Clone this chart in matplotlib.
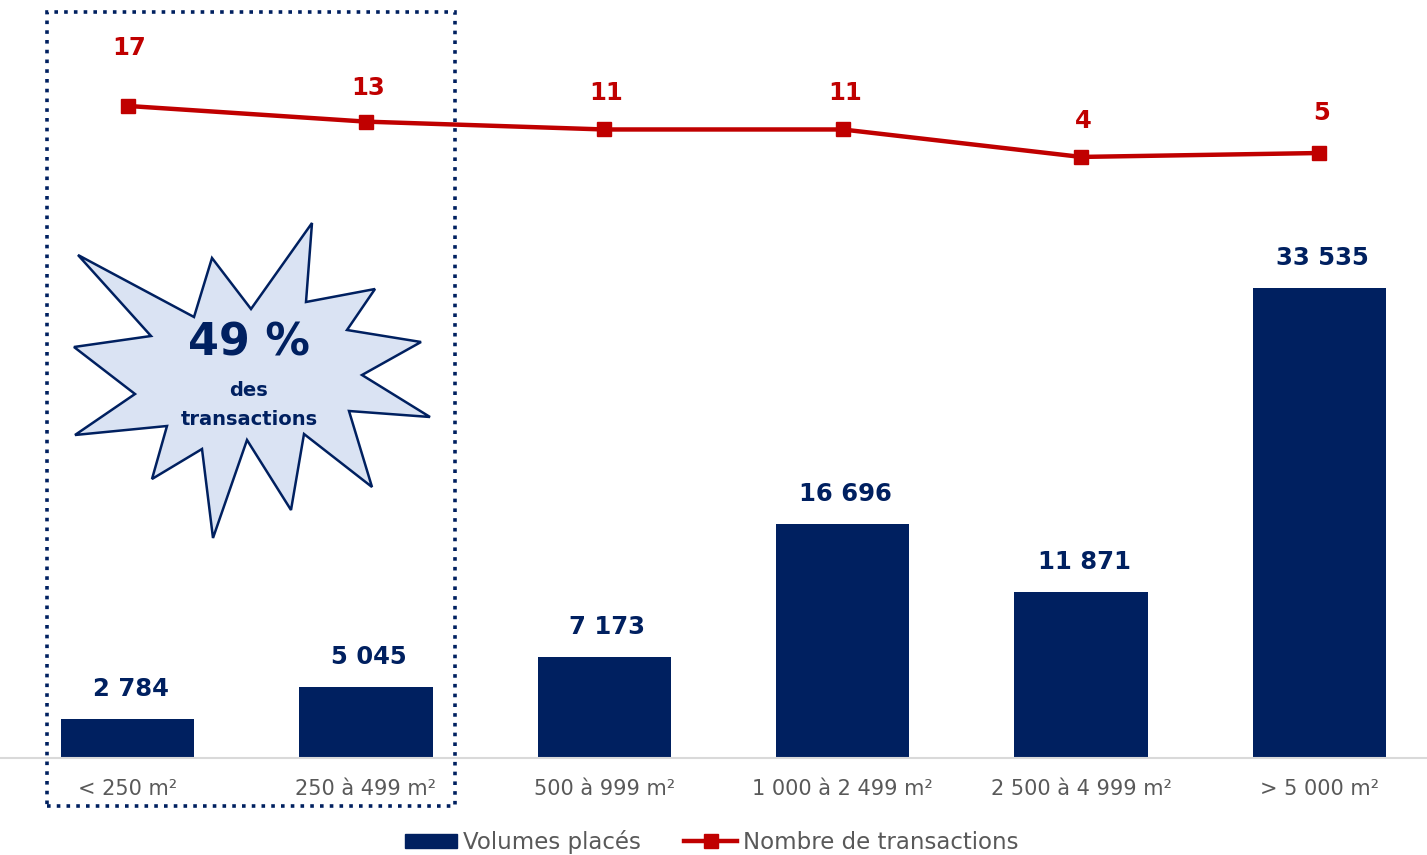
import matplotlib
matplotlib.use('Agg')
import matplotlib.pyplot as plt
from matplotlib.patches import Polygon, Rectangle, Patch
from matplotlib.lines import Line2D

categories = ['< 250 m²', '250 à 499 m²', '500 à 999 m²',
              '1 000 à 2 499 m²', '2 500 à 4 999 m²', '> 5 000 m²']
volumes = [2784, 5045, 7173, 16696, 11871, 33535]
transactions = [17, 13, 11, 11, 4, 5]
volume_labels = ['2 784', '5 045', '7 173', '16 696', '11 871', '33 535']

NAVY = '#002060'
RED = '#C00000'
GREY = '#595959'

W, H = 1427, 855
plt.rcParams['font.family'] = ['DejaVu Sans']

fig = plt.figure(figsize=(W / 100, H / 100), dpi=100)
ax = fig.add_axes([0, 1 - 758 / H, 1, 758 / H])
x = list(range(len(categories)))

ax.bar(x, volumes, width=0.56, color=NAVY, zorder=2)
ax.set_xlim(-0.535, 5.451)
ax.set_ylim(0, 54100)
for xi, v, lab in zip(x, volumes, volume_labels):
    ax.annotate(lab, (xi, v), xytext=(3, 18), textcoords='offset pixels',
                ha='center', va='bottom', fontsize=17.5, fontweight='bold', color=NAVY)

for s in ['top', 'left', 'right']:
    ax.spines[s].set_visible(False)
ax.spines['bottom'].set_color('#D9D9D9')
ax.spines['bottom'].set_linewidth(1.5)
ax.set_yticks([])
ax.set_xticks(x)
ax.set_xticklabels(categories, fontsize=15, color=GREY)
ax.tick_params(axis='x', length=0, pad=15)

# secondary axis for number of transactions
ax2 = ax.twinx()
ax2.set_ylim(-149.2, 44.0)
ax2.plot(x, transactions, color=RED, linewidth=3.2, marker='s', markersize=10.5, zorder=3)
ax2.axis('off')
label_offsets = [46, 22, 24, 24, 24, 28]
for xi, t, off in zip(x, transactions, label_offsets):
    ax2.annotate(str(t), (xi, t), xytext=(2, off), textcoords='offset pixels',
                 ha='center', va='bottom', fontsize=17.5, fontweight='bold', color=RED)


def px(pts):
    return [(a / W, 1 - b / H) for a, b in pts]


# callout star
star = [(78, 255), (194, 317), (212, 258), (251, 309), (312, 223), (306, 302),
        (375, 289), (347, 330), (421, 342), (362, 375), (430, 417), (349, 411),
        (372, 487), (304, 434), (291, 510), (247, 440), (213, 538), (202, 449),
        (152, 479), (167, 426), (75, 435), (135, 394), (74, 347), (151, 336)]
fig.add_artist(Polygon(px(star), closed=True, transform=fig.transFigure,
                       facecolor='#DAE3F3', edgecolor=NAVY, linewidth=1.8, zorder=5))
fig.text(249 / W, 1 - 343 / H, '49 %', ha='center', va='center', fontsize=32,
         fontweight='bold', color=NAVY, zorder=6)
fig.text(249 / W, 1 - 390 / H, 'des', ha='center', va='center', fontsize=14,
         fontweight='bold', color=NAVY, zorder=6)
fig.text(249 / W, 1 - 419 / H, 'transactions', ha='center', va='center', fontsize=14,
         fontweight='bold', color=NAVY, zorder=6)

# dotted frame around the two smallest classes
fig.add_artist(Rectangle((47 / W, 1 - 806 / H), 408 / W, 794 / H, transform=fig.transFigure,
                         fill=False, edgecolor=NAVY, linewidth=2.6,
                         linestyle=(0, (1, 1.7)), zorder=7))

handles = [Patch(facecolor=NAVY, edgecolor=NAVY),
           Line2D([], [], color=RED, linewidth=3.2, marker='s', markersize=10)]
fig.legend(handles, ['Volumes placés', 'Nombre de transactions'],
           loc='center', bbox_to_anchor=(0.4986, 1 - 842 / H), ncol=2, frameon=False,
           fontsize=16.5, labelcolor=GREY, handlelength=2.3, handleheight=0.6,
           handletextpad=0.25, columnspacing=1.9)

fig.savefig('out.png', dpi=100)
